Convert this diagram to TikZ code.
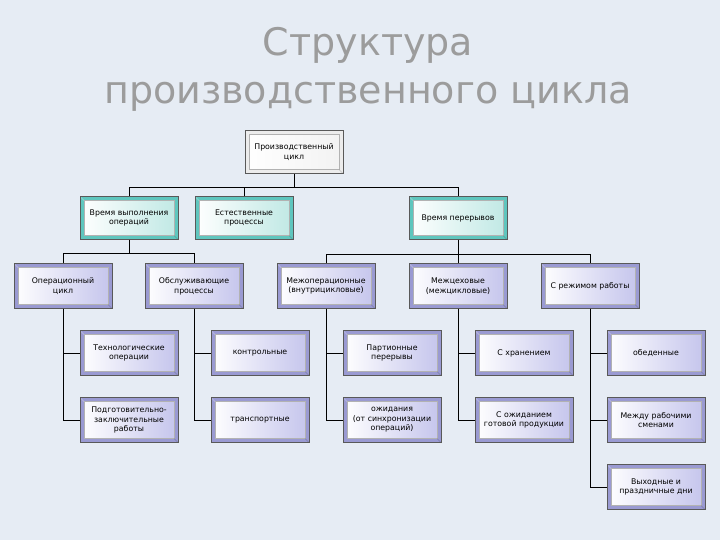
\documentclass[tikz,border=0pt]{standalone}
\usepackage{fontspec}
\setmainfont{DejaVu Sans}
\usetikzlibrary{positioning}
\definecolor{bg}{HTML}{E6ECF4}
\definecolor{purpO}{HTML}{9A9AD2}
\definecolor{purpI}{HTML}{C4C4EC}
\definecolor{tealO}{HTML}{5FC6BE}
\definecolor{tealI}{HTML}{BFE8E4}
\definecolor{titlec}{HTML}{9C9C9C}
\tikzset{
  box/.style={draw=gray!70!black, line width=0.4pt, minimum width=98pt, minimum height=45pt,
    align=center, font=\fontsize{7.8}{9.6}\selectfont, inner sep=1pt, fill=#1O,
    path picture={\shade[left color=white, right color=#1I]
      ([xshift=4pt,yshift=-4pt]path picture bounding box.north west) rectangle
      ([xshift=-4pt,yshift=4pt]path picture bounding box.south east);
      \draw[gray!60, line width=0.3pt]
      ([xshift=4pt,yshift=-4pt]path picture bounding box.north west) rectangle
      ([xshift=-4pt,yshift=4pt]path picture bounding box.south east);
      \draw[white!80!#1O, line width=0.3pt] (path picture bounding box.north west) -- ([xshift=4pt,yshift=-4pt]path picture bounding box.north west);
      \draw[black!40!#1O, line width=0.3pt] (path picture bounding box.south east) -- ([xshift=-4pt,yshift=4pt]path picture bounding box.south east);}},
  box/.default=purp,
  conn/.style={line width=0.7pt}
}
\colorlet{whiteO}{gray!15}
\colorlet{whiteI}{gray!10}
\begin{document}
\begin{tikzpicture}[x=1pt,y=-1pt]
\fill[bg] (0,0) rectangle (720,540);
\useasboundingbox (0,0) rectangle (720,540);
\node[text=titlec, font=\fontsize{38}{44}\selectfont] (t1) at (368,45) {Структура};
\node[text=titlec, font=\fontsize{38}{44}\selectfont] (t2) at (368,97) {производственного цикла};

\node[box=white, minimum height=43pt] (root) at (294,152) {Производственный\\цикл};
\node[box=teal, minimum height=43pt] (a) at (129,218) {Время выполнения\\операций};
\node[box=teal, minimum height=43pt] (b) at (244,218) {Естественные\\процессы};
\node[box=teal, minimum height=43pt] (c) at (458,218) {Время перерывов};

\node[box] (a1) at (63,286) {Операционный\\цикл};
\node[box] (a2) at (194,286) {Обслуживающие\\процессы};
\node[box] (c1) at (326,286) {Межоперационные\\(внутрицикловые)};
\node[box] (c2) at (458,286) {Межцеховые\\(межцикловые)};
\node[box] (c3) at (590,286) {С режимом работы};

\node[box] (a11) at (129,353) {Технологические\\операции};
\node[box] (a12) at (129,420) {Подготовительно-\\заключительные\\работы};
\node[box] (a21) at (260,353) {контрольные};
\node[box] (a22) at (260,420) {транспортные};
\node[box] (c11) at (392,353) {Партионные\\перерывы};
\node[box] (c12) at (392,420) {ожидания\\(от синхронизации\\операций)};
\node[box] (c21) at (524,353) {С хранением};
\node[box] (c22) at (524,420) {С ожиданием\\готовой продукции};
\node[box] (c31) at (656,353) {обеденные};
\node[box] (c32) at (656,420) {Между рабочими\\сменами};
\node[box] (c33) at (656,487) {Выходные и\\праздничные дни};

\draw[conn] (root.south) -- ++(0,14) coordinate (h0);
\draw[conn] (a.north) |- (h0) -| (c.north);
\draw[conn] (b.north) -- (b.north |- h0);
\draw[conn] (a.south) -- ++(0,14) coordinate (h1);
\draw[conn] (a1.north) |- (h1) -| (a2.north);
\draw[conn] (c.south) -- ++(0,15) coordinate (h2);
\draw[conn] (c1.north) |- (h2) -| (c3.north);
\draw[conn] (c2.north) -- (h2);
\foreach \p/\k in {a1/a11,a1/a12,a2/a21,a2/a22,c1/c11,c1/c12,c2/c21,c2/c22,c3/c31,c3/c32,c3/c33}
  \draw[conn] (\p.south) |- (\k.west);
\end{tikzpicture}
\end{document}
